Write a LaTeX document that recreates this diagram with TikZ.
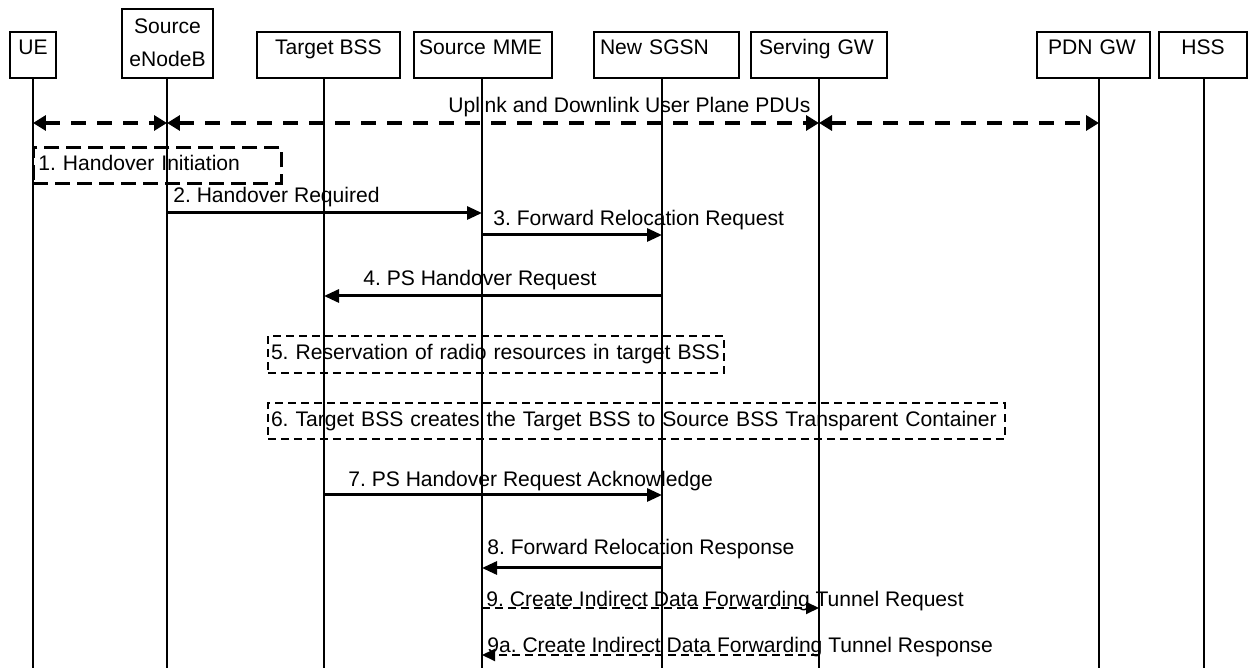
\documentclass[tikz,border=0pt]{standalone}
\usepackage{fontspec}
\setmainfont{Liberation Sans}
\usetikzlibrary{arrows.meta, positioning}
\frenchspacing

\begin{document}
\begin{tikzpicture}[
      x = 0.02cm, y = -0.02cm,
      font = \fontsize{12}{14.4}\selectfont,
      ent/.style  = {draw, line width=0.04cm, anchor=south, inner sep=0pt, text height=0.46cm, text depth=0.46cm},
      life/.style = {line width=0.04cm},
      msg/.style  = {-{Triangle[length=0.3cm, width=0.26cm]}, line width=0.06cm},
      dmsg/.style = {-{Triangle[length=0.26cm, width=0.24cm]}, line width=0.04cm, dash pattern=on 0.16cm off 0.1cm},
      pdu/.style  = {{Triangle[length=0.26cm, width=0.3cm]}-{Triangle[length=0.26cm, width=0.3cm]}, line width=0.065cm, dash pattern=on 0.3cm off 0.22cm},
      note/.style = {draw, line width=0.04cm, dash pattern=on 0.16cm off 0.1cm, anchor=north west, align=left, inner ysep=0pt, text height=0.3cm, text depth=0.09cm},
      lbl/.style  = {anchor=base west, inner sep=0pt}
]
\useasboundingbox (0,0) rectangle (1248,668);

% entities
\node[ent, minimum width=0.92cm] (ue) at (33,79) {UE};
\node[ent, minimum width=1.82cm, align=center, font=\fontsize{12}{18.8}\selectfont, text height=1.16cm, text depth=0.22cm] (enb) at (167.5,79) {Source\\eNodeB};
\node[ent, minimum width=2.86cm] (tbss) at (328.5,79) {Target BSS};
\node[ent, align=left, text width=2.56cm, inner xsep=0.1cm] (mme) at (483,79) {Source MME};
\node[ent, align=left, text width=2.66cm, inner xsep=0.12cm] (sgsn) at (666.5,79) {New SGSN};
\node[ent, align=left, text width=2.4cm, inner xsep=0.16cm] (sgw) at (819,79) {Serving GW};
\node[ent, align=left, text width=1.82cm, inner xsep=0.22cm] (pgw) at (1093.5,79) {PDN GW};
\node[ent, minimum width=1.76cm] (hss) at (1203,79) {HSS};

% lifelines
\coordinate (ue-l)   at (33,79);
\coordinate (enb-l)  at (167,79);
\coordinate (tbss-l) at (324,79);
\coordinate (mme-l)  at (482,79);
\coordinate (sgsn-l) at (662,79);
\coordinate (sgw-l)  at (819,79);
\coordinate (pgw-l)  at (1099,79);
\coordinate (hss-l)  at (1204,79);
\coordinate (bot)    at (0,668);
\foreach \e in {ue,enb,tbss,mme,sgsn,sgw,pgw,hss}
  \draw[life] (\e-l) -- (\e-l |- bot);

% user plane
\draw[pdu] (ue-l |- 0,123) -- (enb-l |- 0,123);
\draw[pdu] (enb-l |- 0,123) -- (sgw-l |- 0,123);
\draw[pdu] (sgw-l |- 0,123) -- (pgw-l |- 0,123);
\node[lbl] (pdus) at (448,113) {Uplink and Downlink User Plane PDUs};

% 1. - 4.
\node[note, line width=0.055cm, dash pattern=on 0.3cm off 0.14cm, minimum height=0.72cm, text width=4.76cm, inner xsep=0.1cm] (n1) at (32,146) {1. Handover Initiation};

\draw[msg] (enb-l |- 0,213) -- (mme-l |- 0,213);
\node[lbl] (m2) at (173,203) {2. Handover Required};

\draw[msg] (mme-l |- 0,235) -- (sgsn-l |- 0,235);
\node[lbl] (m3) at (493,226) {3. Forward Relocation Request};

\draw[msg] (sgsn-l |- 0,296) -- (tbss-l |- 0,296);
\node[lbl] (m4) at (363,286) {4. PS Handover Request};

% 5. - 6.
\node[note, minimum height=0.74cm, text width=9cm, inner xsep=0.06cm] (n5) at (267,335) {5. Reservation of radio resources in target BSS};
\node[note, minimum height=0.72cm, text width=14.62cm, inner xsep=0.06cm] (n6) at (267,402) {6. Target BSS creates the Target BSS to Source BSS Transparent Container};

% 7. - 9a.
\draw[msg] (tbss-l |- 0,495) -- (sgsn-l |- 0,495);
\node[lbl] (m7) at (348,487) {7. PS Handover Request Acknowledge};

\draw[msg] (sgsn-l |- 0,568) -- (mme-l |- 0,568);
\node[lbl] (m8) at (487,555) {8. Forward Relocation Response};

\draw[dmsg] (mme-l |- 0,608) -- (sgw-l |- 0,608);
\node[lbl] (m9) at (486,607) {9. Create Indirect Data Forwarding Tunnel Request};

\draw[dmsg] (sgw-l |- 0,655) -- (mme-l |- 0,655);
\node[lbl] (m9a) at (487,653) {9a. Create Indirect Data Forwarding Tunnel Response};
\end{tikzpicture}
\end{document}
